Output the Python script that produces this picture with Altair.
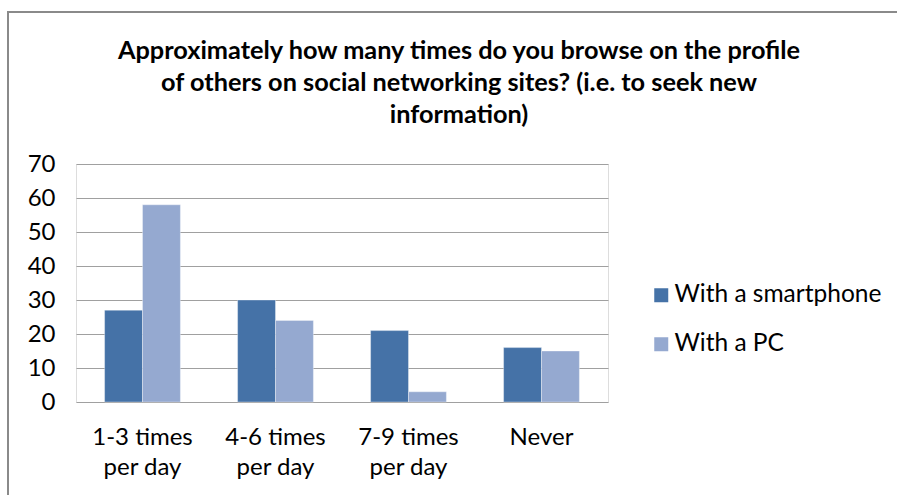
import altair as alt
import pandas as pd

categories = ["1-3 times\nper day", "4-6 times\nper day", "7-9 times\nper day", "Never"]
series_names = ["With a smartphone", "With a PC"]
smartphone = [27, 30, 21, 16]
pc = [58, 24, 3, 15]
colors = ["#4572A7", "#95A9D0"]
title_lines = [
    "Approximately how many times do you browse on the profile",
    "of others on social networking sites? (i.e. to seek new",
    "information)",
]

rows = []
for c, s, p in zip(categories, smartphone, pc):
    rows.append({"cat": c, "series": series_names[0], "value": s})
    rows.append({"cat": c, "series": series_names[1], "value": p})
df = pd.DataFrame(rows)

FONT = "Lato"

bars = alt.Chart(df).mark_bar(stroke="#ffffff", strokeOpacity=0.35, strokeWidth=1).encode(
    x=alt.X("cat:N", sort=categories, title=None,
            scale=alt.Scale(paddingInner=0.43, paddingOuter=0.215),
            axis=alt.Axis(labelExpr="split(datum.value, '\\n')", labelAngle=0,
                          labelFontSize=24, labelLineHeight=30, labelPadding=23,
                          labelColor="#000000", labelFont=FONT,
                          ticks=False, domain=False, grid=False)),
    xOffset=alt.XOffset("series:N", sort=series_names),
    y=alt.Y("value:Q", title=None,
            scale=alt.Scale(domain=[0, 70]),
            axis=alt.Axis(values=[0, 10, 20, 30, 40, 50, 60, 70],
                          labelFontSize=24, labelPadding=21, labelColor="#000000",
                          labelFont=FONT, ticks=False, domain=False,
                          grid=True, gridColor="#a0a0a0", gridWidth=1.2)),
    color=alt.Color("series:N", sort=series_names,
                    scale=alt.Scale(domain=series_names, range=colors),
                    legend=alt.Legend(title=None, orient="none", legendX=573, legendY=119,
                                      symbolType="square", symbolSize=196,
                                      symbolStrokeWidth=0, labelFontSize=24.5,
                                      labelFont=FONT, labelColor="#000000",
                                      labelLimit=400,
                                      rowPadding=24, labelOffset=1)),
)

one = pd.DataFrame({"a": [0]})
border_top = alt.Chart(one).mark_rule(color="#8a8a8a", strokeWidth=2).encode(
    x=alt.value(-69), x2=alt.value(830), y=alt.value(-152))
border_left = alt.Chart(one).mark_rule(color="#8a8a8a", strokeWidth=2).encode(
    x=alt.value(-68), y=alt.value(-153), y2=alt.value(340))

chart = alt.layer(bars, border_top, border_left).properties(
    width=532,
    height=238,
    title=alt.Title(title_lines, fontSize=25.3, font=FONT, fontWeight="bold",
                    color="#000000", lineHeight=32, anchor="middle", dx=117, offset=-118),
    padding={"left": 76, "top": 164, "right": 289, "bottom": 93},
    autosize=alt.AutoSizeParams(type="none"),
).configure_view(stroke="#a0a0a0", strokeWidth=1.2).configure(background="#ffffff")

chart.save("out.html", embed_options={"renderer": "svg", "actions": False})
